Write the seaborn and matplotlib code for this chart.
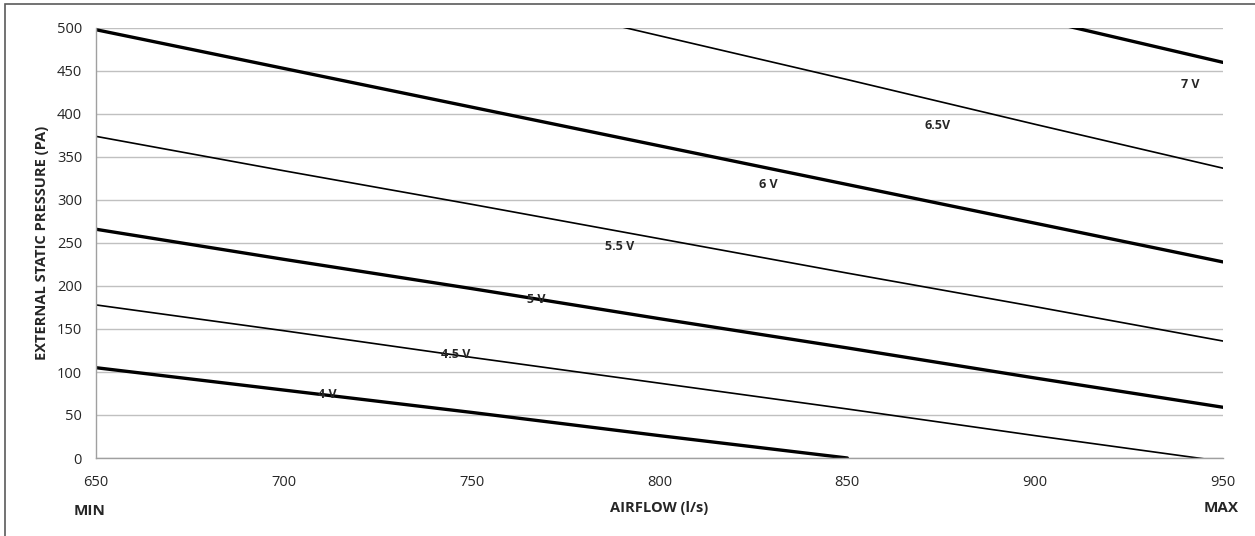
import pandas as pd
import seaborn as sns
import matplotlib.pyplot as plt
from matplotlib.patches import Rectangle

# Fan curves: airflow (l/s) vs external static pressure (Pa) per control voltage
airflow_4v = [650, 700, 750, 800, 850]
pressure_4v = [105, 79, 53, 26, 0]
airflow_45v = [650, 700, 750, 800, 850, 900, 950]
pressure_45v = [178, 148, 117, 87, 57, 26, -4]
airflow_5v = [650, 700, 750, 800, 850, 900, 950]
pressure_5v = [266, 231, 197, 162, 128, 93, 59]
airflow_55v = [650, 700, 750, 800, 850, 900, 950]
pressure_55v = [374, 334, 295, 255, 215, 176, 136]
airflow_6v = [650, 700, 750, 800, 850, 900, 950]
pressure_6v = [498, 453, 408, 363, 318, 273, 228]
airflow_65v = [750, 800, 850, 900, 950]
pressure_65v = [542, 491, 440, 388, 337]
airflow_7v = [850, 900, 950]
pressure_7v = [563, 511, 460]

series_names = ['4 V', '4.5 V', '5 V', '5.5 V', '6 V', '6.5V', '7 V']
series_x = [airflow_4v, airflow_45v, airflow_5v, airflow_55v, airflow_6v, airflow_65v, airflow_7v]
series_y = [pressure_4v, pressure_45v, pressure_5v, pressure_55v, pressure_6v, pressure_65v, pressure_7v]

x_ticks = [650, 700, 750, 800, 850, 900, 950]
y_ticks = [0, 50, 100, 150, 200, 250, 300, 350, 400, 450, 500]

# %%
sns.set_theme(style="whitegrid")
plt.rcParams['font.family'] = ['Open Sans', 'DejaVu Sans']

fig = plt.figure(figsize=(12.55, 5.36), dpi=100)
ax = fig.add_axes([96 / 1255, 1 - 458 / 536, (1223 - 96) / 1255, (458 - 28) / 536])

widths = [2.4, 1.2, 2.4, 1.2, 2.4, 1.2, 2.4]
for name, xs, ys, lw in zip(series_names, series_x, series_y, widths):
    df = pd.DataFrame({'airflow': xs, 'pressure': ys})
    sns.lineplot(data=df, x='airflow', y='pressure', ax=ax, color='black',
                 linewidth=lw, clip_on=True)

# label placement for each curve
label_pos = [(711.5, 74), (745.8, 120), (767.1, 184), (789.5, 246),
             (828.9, 318), (873.9, 387), (941.2, 434)]
for name, (lx, ly) in zip(series_names, label_pos):
    ax.text(lx, ly, name, fontsize=9, fontweight='bold', ha='center', va='center')

ax.set_xlim(650, 950)
ax.set_ylim(0, 500)
ax.set_xticks(x_ticks)
ax.set_yticks(y_ticks)
ax.tick_params(axis='both', labelsize=10.5, length=4, color='#a0a0a0', pad=6, direction='out')
ax.tick_params(axis='x', pad=8)
ax.grid(axis='y', color='#c0c0c0', linewidth=1)
ax.grid(axis='x', visible=False)
for side in ['top', 'right']:
    ax.spines[side].set_visible(False)
for side in ['left', 'bottom']:
    ax.spines[side].set_color('#a0a0a0')
    ax.spines[side].set_linewidth(1)

ax.set_xlabel('AIRFLOW (l/s)', fontsize=10.5, fontweight='bold', labelpad=8)
ax.set_ylabel('EXTERNAL STATIC PRESSURE (PA)', fontsize=10.5, fontweight='bold', labelpad=6)

fig.text(90 / 1255, 1 - 511 / 536, 'MIN', fontsize=11, fontweight='bold', ha='center', va='center')
fig.text(1221 / 1255, 1 - 508 / 536, 'MAX', fontsize=11, fontweight='bold', ha='center', va='center')

# chart border (open at right/bottom as in the source crop)
fig.patches.append(Rectangle((5 / 1255, -0.1), 1.1, 1 - 4 / 536 + 0.1, transform=fig.transFigure,
                             fill=False, edgecolor='#5a5a5a', linewidth=1.2))

fig.savefig('out.png', dpi=100)
